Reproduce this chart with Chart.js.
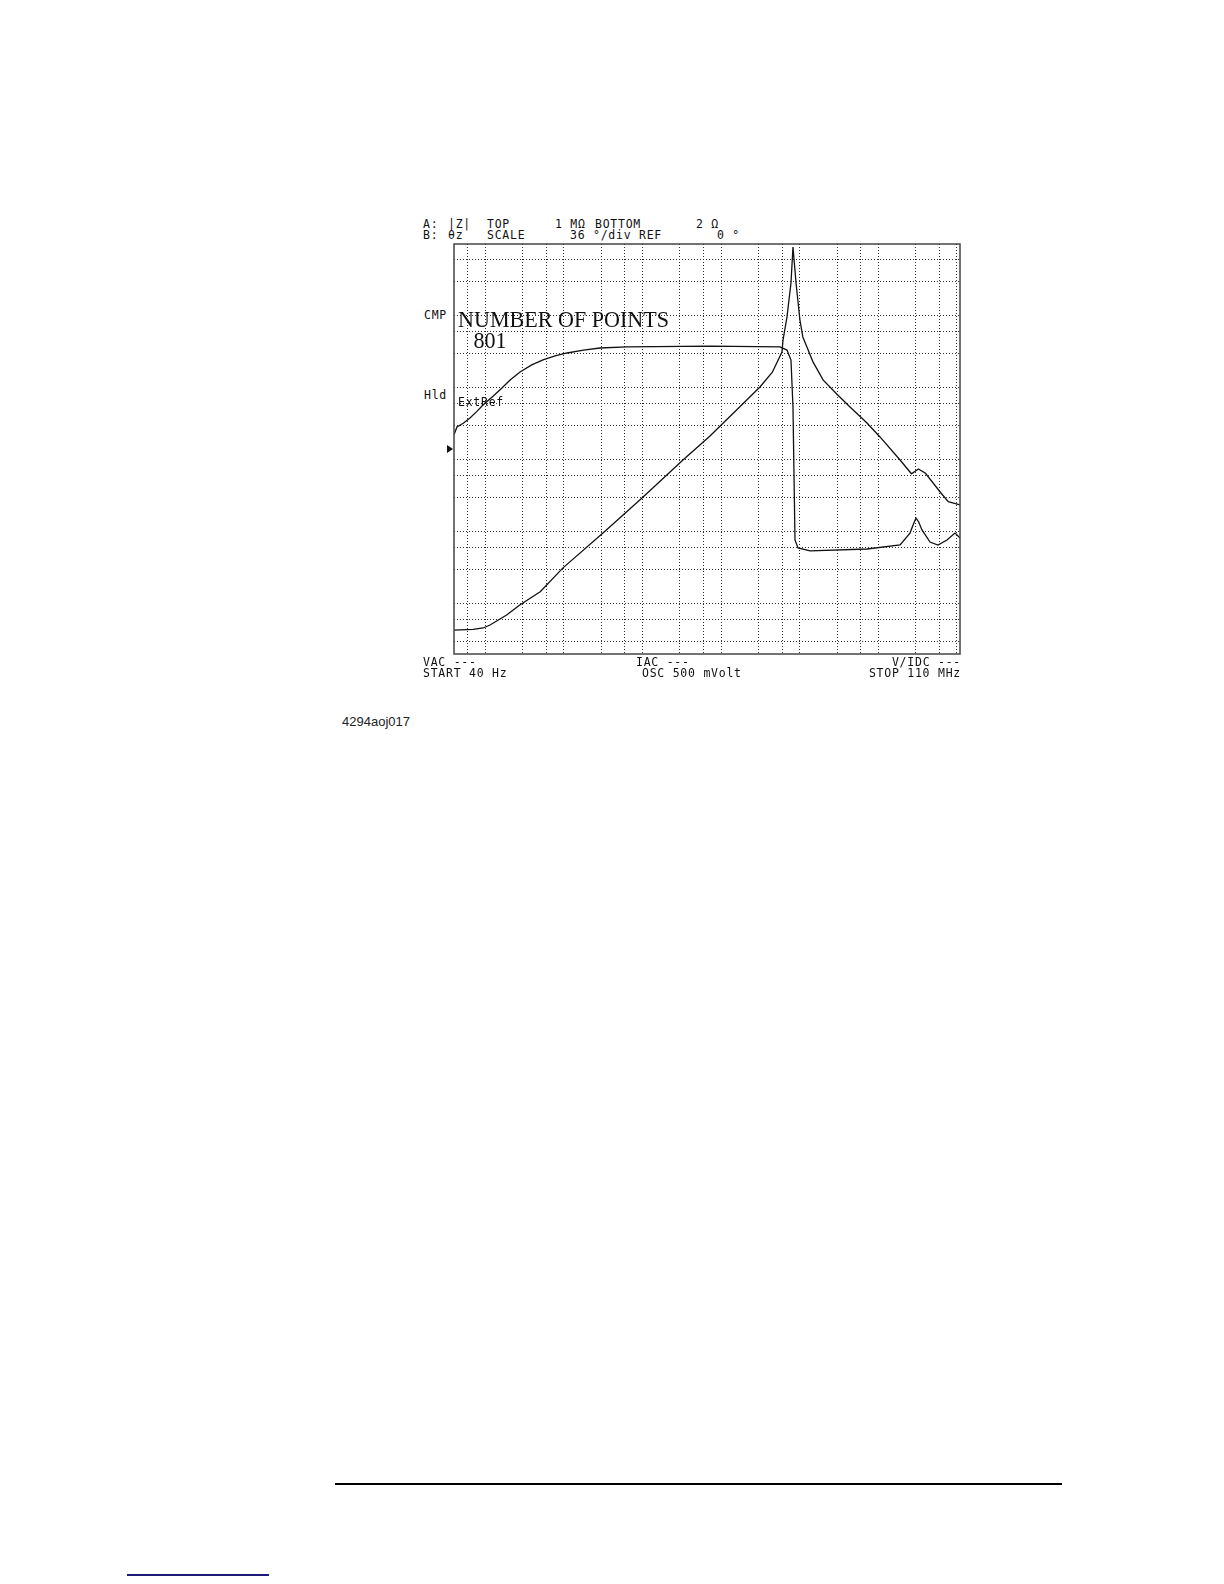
<!DOCTYPE html>
<html lang="en">
<head>
    <meta charset="UTF-8" />
    <title>4294A - Number of Points</title>
    <script src="https://cdn.jsdelivr.net/npm/chart.js"></script>
    <style>
        html, body { margin: 0; padding: 0; background: #fff; }
        #page { position: relative; width: 1224px; height: 1584px; overflow: hidden; }
        .mono {
            position: absolute;
            font-family: "DejaVu Sans Mono", monospace;
            font-size: 11.5px;
            line-height: 10px;
            letter-spacing: 0.75px;
            white-space: pre;
            color: #111;
        }
        .big {
            position: absolute;
            font-family: "Liberation Serif", serif;
            font-size: 23px;
            line-height: 21px;
            white-space: pre;
            color: #111;
            transform-origin: left top;
        }
        #chart-box { position: absolute; left: 400px; top: 200px; width: 600px; height: 500px; }
    </style>
</head>
<body>
<div id="page">

    <!-- instrument header -->
    <div class="mono" style="left:423px; top:219px;">A:</div>
    <div class="mono" style="left:448px; top:219px;">|Z|</div>
    <div class="mono" style="left:487px; top:219px;">TOP</div>
    <div class="mono" style="left:555px; top:219px;">1 MΩ</div>
    <div class="mono" style="left:595px; top:219px;">BOTTOM</div>
    <div class="mono" style="left:696px; top:219px;">2 Ω</div>

    <div class="mono" style="left:423px; top:230px;">B:</div>
    <div class="mono" style="left:448px; top:230px;">θz</div>
    <div class="mono" style="left:487px; top:230px;">SCALE</div>
    <div class="mono" style="left:570px; top:230px;">36 °/div</div>
    <div class="mono" style="left:639px; top:230px;">REF</div>
    <div class="mono" style="left:717px; top:230px;">0 °</div>

    <!-- side labels -->
    <div class="mono" style="left:424px; top:310px;">CMP</div>
    <div class="mono" style="left:424px; top:390px;">Hld</div>
    <div style="position:absolute; left:447px; top:445px; width:0; height:0;
                border-top:4px solid transparent; border-bottom:4px solid transparent;
                border-left:6px solid #111;"></div>

    <div id="chart-box"><canvas id="chart"></canvas></div>

    <!-- overlays on the trace area -->
    <div class="big" style="left:458px; top:309px; transform:scaleX(0.96);">NUMBER OF POINTS
  &#8201;801</div>
    <div class="mono" style="left:458px; top:397px;">ExtRef</div>

    <!-- instrument footer -->
    <div class="mono" style="left:423px; top:657px;">VAC ---</div>
    <div class="mono" style="left:423px; top:668px;">START 40 Hz</div>
    <div class="mono" style="left:636px; top:657px;">IAC ---</div>
    <div class="mono" style="left:642px; top:668px;">OSC 500 mVolt</div>
    <div class="mono" style="right:263px; top:657px;">V/IDC ---</div>
    <div class="mono" style="right:263px; top:668px;">STOP 110 MHz</div>

    <div style="position:absolute; left:342px; top:716px; font-family:'Liberation Sans', Arial, sans-serif;
                font-size:13px; line-height:12px; color:#222;">4294aoj017</div>

    <!-- page rules -->
    <div style="position:absolute; left:335px; top:1483px; width:727px; height:2px; background:#000;"></div>
    <div style="position:absolute; left:127px; top:1574px; width:142px; height:2px; background:#1c1c78;"></div>
</div>

<script>
    // sweep range (Hz) and display ranges
    const sweepStart = 40;
    const sweepStop = 110e6;
    const zBottom = 2;
    const zTop = 1e6;
    const phaseMin = -180;
    const phaseMax = 180;

    // graticule positions
    const gridFreqs = [60, 100, 300, 600, 1e3, 3e3, 6e3, 1e4, 3e4, 6e4, 1e5, 3e5, 6e5,
                       1e6, 3e6, 6e6, 1e7, 3e7, 6e7, 1e8];
    const gridImpedances = [3, 6, 10, 30, 60, 100, 300, 600, 1e3, 3e3, 6e3, 1e4,
                            3e4, 6e4, 1e5, 3e5, 6e5];

    // trace A : |Z| (ohm)
    const freqZ = [40, 70, 94, 115, 187, 275, 500, 975, 3150, 9880, 32800, 72400, 142000,
                   313000, 450000, 597000, 615000, 691000, 777000, 824000, 901000, 1.01e6,
                   1.1e6, 1.24e6, 1.48e6, 1.99e6, 2.97e6, 4.38e6, 7.15e6, 1.055e7, 1.9e7,
                   2.65e7, 3.25e7, 4.0e7, 6.3e7, 7.8e7, 1.1e8];
    const magZ = [4.3, 4.4, 4.6, 5.06, 6.97, 9.6, 14.7, 31.5, 96, 295, 994, 2150, 4400,
                  10300, 16500, 31500, 46000, 96700, 287000, 910000, 287000, 87800,
                  51000, 37000, 23000, 12900, 8230, 5430, 3280, 2080, 994,
                  640, 746, 650, 346, 262, 236];

    // trace B : phase (deg)
    const freqTheta = [40, 43.6, 52.5, 63.9, 77.6, 93.6, 126.5, 163, 207, 277, 390, 543, 773,
                       1100, 1774, 2880, 6360, 72400, 563000, 691000, 777000, 824000, 874000,
                       955000, 1.36e6, 7.21e6, 1.9e7, 2.54e7, 2.78e7, 3.03e7, 3.28e7, 3.61e7,
                       4.57e7, 5.77e7, 7.51e7, 9.5e7, 1.1e8];
    const phaseTheta = [12.5, 19.3, 22.6, 27.2, 32.8, 38.6, 46.5, 53.6, 60.6, 67.6, 73.8, 78.2,
                        81.7, 84.3, 86.9, 88.7, 89.6, 90.4, 89.6, 86.9, 78.1, 36.9, -79.9,
                        -86.9, -89.5, -87.8, -84.3, -73.8, -66.7, -60.6, -64.1, -71.1,
                        -81.7, -84.3, -79.9, -73.8, -78.1];

    const frame = {
        id: 'frame',
        afterDraw(chart) {
            const { ctx, chartArea: a } = chart;
            ctx.save();
            ctx.strokeStyle = '#444';
            ctx.lineWidth = 1.5;
            ctx.strokeRect(a.left, a.top, a.right - a.left, a.bottom - a.top);
            ctx.restore();
        }
    };

    const gridOpts = { color: '#333', lineWidth: 1, drawTicks: false };

    new Chart(document.getElementById('chart'), {
        type: 'line',
        data: {
            datasets: [
                {
                    label: '|Z|',
                    data: freqZ.map((f, i) => ({ x: f, y: magZ[i] })),
                    yAxisID: 'y',
                    borderColor: '#111',
                    borderWidth: 1.3,
                    pointRadius: 0,
                    tension: 0
                },
                {
                    label: 'θz',
                    data: freqTheta.map((f, i) => ({ x: f, y: phaseTheta[i] })),
                    yAxisID: 'y2',
                    borderColor: '#111',
                    borderWidth: 1.3,
                    pointRadius: 0,
                    tension: 0
                }
            ]
        },
        options: {
            responsive: true,
            maintainAspectRatio: false,
            animation: false,
            layout: { padding: { left: 54, top: 44, right: 40, bottom: 46 } },
            plugins: { legend: { display: false }, tooltip: { enabled: false } },
            scales: {
                x: {
                    type: 'logarithmic',
                    min: sweepStart,
                    max: sweepStop,
                    afterBuildTicks: s => { s.ticks = gridFreqs.map(v => ({ value: v })); },
                    ticks: { display: false },
                    grid: gridOpts,
                    border: { display: false, dash: [1, 2] }
                },
                y: {
                    type: 'logarithmic',
                    min: zBottom,
                    max: zTop,
                    afterBuildTicks: s => { s.ticks = gridImpedances.map(v => ({ value: v })); },
                    ticks: { display: false },
                    grid: gridOpts,
                    border: { display: false, dash: [1, 2] }
                },
                y2: {
                    type: 'linear',
                    min: phaseMin,
                    max: phaseMax,
                    display: false
                }
            }
        },
        plugins: [frame]
    });
</script>
</body>
</html>
